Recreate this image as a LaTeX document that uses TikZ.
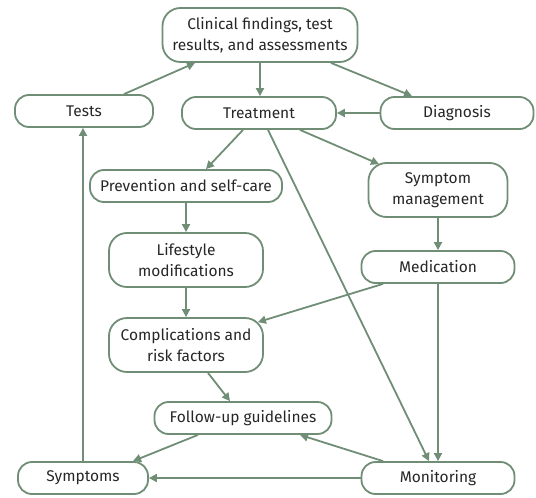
\documentclass[tikz,border=0pt]{standalone}
\usepackage{fontspec}
\setmainfont{Fira Sans}
\usetikzlibrary{arrows.meta,calc}
\definecolor{sage}{RGB}{112,141,117}
\begin{document}
\begin{tikzpicture}[x=1pt,y=-1pt,
  box/.style={draw=sage, line width=1.8pt, rounded corners=14pt, inner sep=0pt,
    align=center, font=\fontsize{15.5}{21}\selectfont, text=black!85},
  bigbox/.style={box, rounded corners=18pt, minimum height=54pt},
  smallbox/.style={box, minimum height=32pt},
  conn/.style={draw=sage, line width=1.8pt, -{Triangle[length=8pt,width=8pt]}}]
\useasboundingbox (0,0) rectangle (536,498);
\node[bigbox, minimum width=195pt] (clin) at (260,35) {Clinical findings, test\\results, and assessments};
\node[smallbox, minimum width=138pt] (tests) at (84,111) {Tests};
\node[smallbox, minimum width=154pt] (treat) at (259,113) {Treatment};
\node[smallbox, minimum width=153pt] (diag) at (457,113) {Diagnosis};
\node[smallbox, minimum width=192pt] (prev) at (186,186) {Prevention and self-care};
\node[bigbox, minimum width=139pt] (sym) at (438,190) {Symptom\\management};
\node[bigbox, minimum width=154pt] (life) at (186,260) {Lifestyle\\modifications};
\node[smallbox, minimum width=153pt] (med) at (438,267) {Medication};
\node[bigbox, minimum width=154pt] (comp) at (186,345) {Complications and\\risk factors};
\node[smallbox, minimum width=177pt] (fol) at (243,418) {Follow-up guidelines};
\node[smallbox, minimum width=130pt] (symp) at (83,478) {Symptoms};
\node[smallbox, minimum width=153pt] (mon) at (438,478) {Monitoring};

\draw[conn] ($(tests.north)+(40,0)$) -- ($(clin.south)+(-65,0)$);
\draw[conn] (clin.south) -- (clin.south |- treat.north);
\draw[conn] ($(clin.south)+(71,0)$) -- ($(diag.north)+(-45,0)$);
\draw[conn] (diag.west) -- (treat.east);
\draw[conn] ($(treat.south)+(-16,0)$) -- ($(prev.north)+(20,0)$);
\draw[conn] ($(treat.south)+(41,0)$) -- ($(sym.north)+(-59,2)$);
\draw[conn] ($(treat.south)+(9,0)$) -- ($(mon.north)+(-9,0)$);
\draw[conn] (prev.south) -- (life.north);
\draw[conn] (life.south) -- (comp.north);
\draw[conn] (sym.south) -- (med.north);
\draw[conn] ($(med.south)+(-55,0)$) -- ($(comp.north east)+(-6,5)$);
\draw[conn] (med.south) -- (mon.north);
\draw[conn] ($(comp.south)+(22,0)$) -- ($(fol.north)+(-13,0)$);
\draw[conn] ($(mon.north)+(-55,0)$) -- ($(fol.south)+(57,0)$);
\draw[conn] (mon.west) -- (symp.east);
\draw[conn] ($(fol.south)+(-45,0)$) -- ($(symp.north)+(50,0)$);
\draw[conn] (symp.north) -- (symp.north |- tests.south);
\end{tikzpicture}
\end{document}
